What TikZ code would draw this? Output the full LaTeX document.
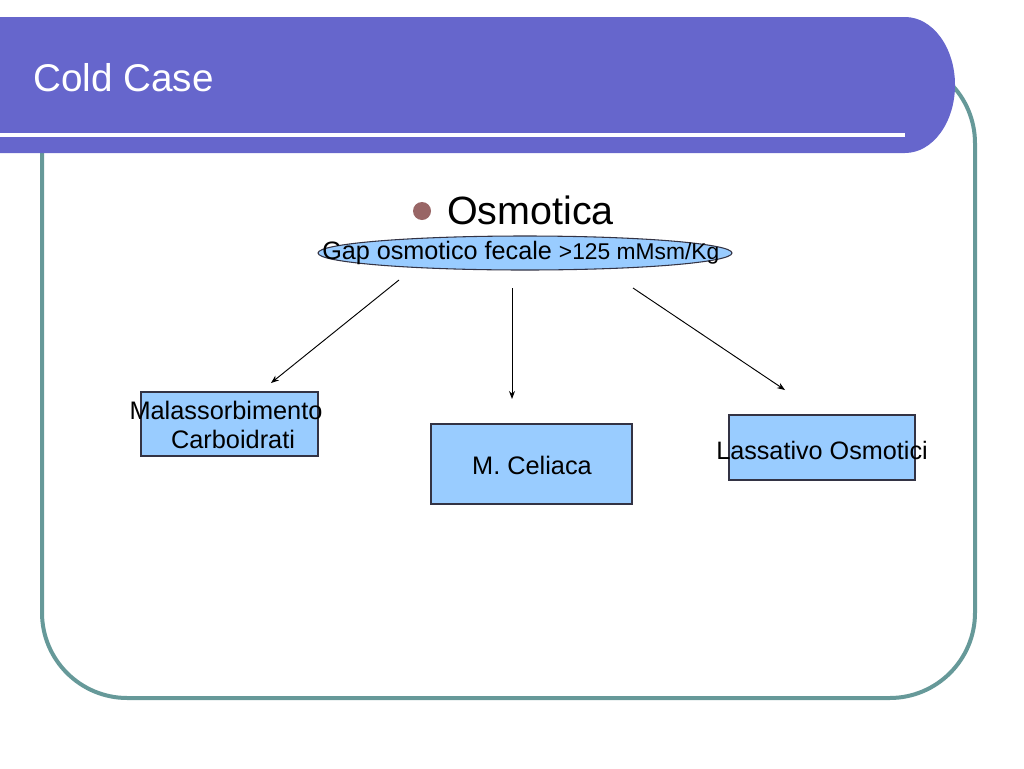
\documentclass[tikz,border=0pt]{standalone}
\usepackage{fontspec}
\setmainfont{Liberation Sans}
\usetikzlibrary{arrows.meta,shapes.geometric}
\definecolor{barcol}{HTML}{6666CC}
\definecolor{framecol}{HTML}{669999}
\definecolor{boxfill}{HTML}{99CCFF}
\definecolor{boxline}{HTML}{333344}
\definecolor{bulletcol}{HTML}{996666}
\tikzset{
  box/.style={draw=boxline, line width=0.8pt, fill=boxfill, inner sep=0pt},
  boxtext/.style={inner sep=0pt, align=center, font=\fontsize{19}{22}\selectfont},
  conn/.style={-{Stealth[length=6pt,width=4.5pt]}, line width=0.7pt, black},
}
\begin{document}
\begin{tikzpicture}[x=0.75pt,y=-0.75pt]
\useasboundingbox (0,0) rectangle (1024,768);
% frame
\draw[framecol, line width=3pt, rounded corners=64pt] (42,58) rectangle (975,698);
% title bar
\fill[barcol] (0,17) -- (905,17) arc[start angle=-90, end angle=90, x radius=50, y radius=68] -- (0,153) -- cycle;
\fill[white] (0,133) rectangle (905,137);
\node[anchor=base west, text=white, inner sep=0pt, font=\fontsize{29}{34}\selectfont] (title) at (33,91) {Cold Case};
% bullet and heading
\fill[bulletcol] (422,211) circle (9);
\node[anchor=base west, inner sep=0pt, font=\fontsize{29.6}{34}\selectfont] (osm) at (447,224) {Osmotica};
% ellipse
\node[ellipse, draw=boxline, line width=0.8pt, fill=boxfill, minimum width=310.5pt, minimum height=25.5pt, inner sep=0pt] (ell) at (525,253) {};
\node[anchor=base west, inner sep=0pt] (gap) at (322,259) {\fontsize{18.9}{22}\selectfont Gap osmotico fecale \fontsize{17.1}{20}\selectfont >125 mMsm/Kg};
% boxes
\node[box, minimum width=132.75pt, minimum height=48pt] (b1) at (229.5,424) {};
\node[boxtext] (t1) at (226,425) {Malassorbimento\\\ \ Carboidrati};
\node[box, minimum width=150.75pt, minimum height=60pt] (b2) at (531.5,464) {};
\node[boxtext] (t2) at (532,465) {M. Celiaca};
\node[box, minimum width=139.5pt, minimum height=48.75pt] (b3) at (822,447.5) {};
\node[boxtext, font=\fontsize{18.9}{22}\selectfont] (t3) at (822,450) {Lassativo Osmotici};
% connector endpoints
\coordinate (s1) at (399,280);
\coordinate (e1) at (271,383);
\coordinate (s2) at (512,288);
\coordinate (e2) at (512,399);
\coordinate (s3) at (633,288);
\coordinate (e3) at (785,390);
\draw[conn] (s1) -- (e1);
\draw[conn] (s2) -- (e2);
\draw[conn] (s3) -- (e3);
\end{tikzpicture}
\end{document}
